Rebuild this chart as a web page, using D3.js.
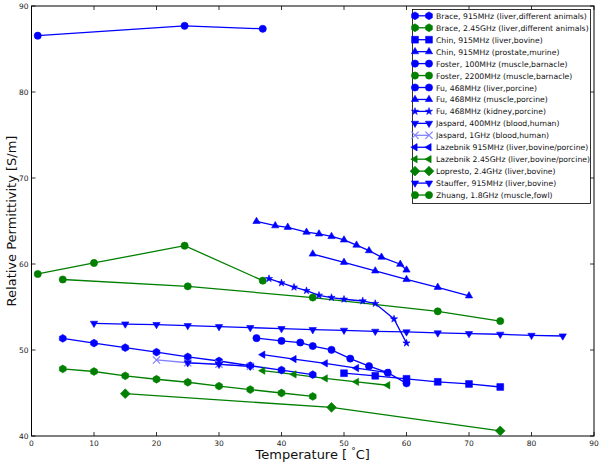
<!DOCTYPE html>
<html><head><meta charset="utf-8">
<script src="https://cdn.jsdelivr.net/npm/d3@7"></script>
<style>body{margin:0;background:#fff;} svg{display:block;font-family:"DejaVu Sans",sans-serif;}</style>
</head><body>
<svg id="c" width="600" height="465"></svg>
<script>
const xTicks = [0,10,20,30,40,50,60,70,80,90];
const yTicks = [40,50,60,70,80,90];

const braceT915 = [5,10,15,20,25,30,35,40,45];
const braceV915 = [51.35,50.8,50.27,49.75,49.2,48.72,48.17,47.67,47.13];
const braceT245 = [5,10,15,20,25,30,35,40,45];
const braceV245 = [47.8,47.5,47.0,46.6,46.25,45.8,45.4,45.0,44.6];
const chinLiverT = [50,55,60,65,70,75];
const chinLiverV = [47.3,47.0,46.65,46.3,46.05,45.7];
const chinProT = [36,39,41,44,46,48,50,52,54,56,59,60];
const chinProV = [64.95,64.45,64.27,63.7,63.5,63.2,62.8,62.2,61.55,60.8,59.97,59.3];
const fosterT100 = [1,24.5,37];
const fosterV100 = [86.55,87.7,87.35];
const fosterT2200 = [1,10,24.5,37];
const fosterV2200 = [58.84,60.12,62.13,58.06];
const fuLiverT = [36,40,43,45,48,51,54,57,60];
const fuLiverV = [51.38,51.06,50.87,50.46,50.02,49.0,48.12,47.36,46.12];
const fuMuscleT = [45,50,55,60,65,70];
const fuMuscleV = [61.16,60.2,59.2,58.2,57.29,56.3];
const fuKidneyT = [38,40,42,44,46,48,50,53,55,58,60];
const fuKidneyV = [58.3,57.8,57.3,56.9,56.36,56.1,55.9,55.7,55.4,53.6,50.8];
const jasp400T = [10,15,20,25,30,35,40,45,50,55,60,65,70,75,80,85];
const jasp400V = [53.1,53.02,52.95,52.83,52.71,52.6,52.48,52.36,52.29,52.17,52.1,51.98,51.9,51.83,51.7,51.63];
const jasp1gT = [20,25,30,35];
const jasp1gV = [48.84,48.52,48.36,48.1];
const laz915T = [37,42,47,52,57];
const laz915V = [49.46,48.95,48.45,47.9,47.36];
const laz245T = [37,42,47,52,57];
const laz245V = [47.6,47.17,46.7,46.3,45.9];
const loprestoT = [15,48,75];
const loprestoV = [44.92,43.33,40.6];
const staufferT = [25,30,35];
const staufferV = [48.5,48.33,48.1];
const zhuangT = [5,25,45,65,75];
const zhuangV = [58.2,57.4,56.1,54.5,53.37];

const seriesNames = [
 "Brace, 915MHz (liver,different animals)",
 "Brace, 2.45GHz (liver,different animals)",
 "Chin, 915MHz (liver,bovine)",
 "Chin, 915MHz (prostate,murine)",
 "Foster, 100MHz (muscle,barnacle)",
 "Foster, 2200MHz (muscle,barnacle)",
 "Fu, 468MHz (liver,porcine)",
 "Fu, 468MHz (muscle,porcine)",
 "Fu, 468MHz (kidney,porcine)",
 "Jaspard, 400MHz (blood,human)",
 "Jaspard, 1GHz (blood,human)",
 "Lazebnik 915MHz (liver,bovine/porcine)",
 "Lazebnik 2.45GHz (liver,bovine/porcine)",
 "Lopresto, 2.4GHz (liver,bovine)",
 "Stauffer, 915MHz (liver,bovine)",
 "Zhuang, 1.8GHz (muscle,fowl)"
];
const B = "#0000ff", G = "#007f00", LB = "#8080ff";
const series = [
 {t:braceT915,v:braceV915,c:B,m:"hex"},
 {t:braceT245,v:braceV245,c:G,m:"hex"},
 {t:chinLiverT,v:chinLiverV,c:B,m:"square"},
 {t:chinProT,v:chinProV,c:B,m:"triUp"},
 {t:fosterT100,v:fosterV100,c:B,m:"circle"},
 {t:fosterT2200,v:fosterV2200,c:G,m:"circle"},
 {t:fuLiverT,v:fuLiverV,c:B,m:"circle"},
 {t:fuMuscleT,v:fuMuscleV,c:B,m:"triUp"},
 {t:fuKidneyT,v:fuKidneyV,c:B,m:"star"},
 {t:jasp400T,v:jasp400V,c:B,m:"triDown"},
 {t:jasp1gT,v:jasp1gV,c:LB,m:"x"},
 {t:laz915T,v:laz915V,c:B,m:"triLeft"},
 {t:laz245T,v:laz245V,c:G,m:"triLeft"},
 {t:loprestoT,v:loprestoV,c:G,m:"diamond"},
 {t:staufferT,v:staufferV,c:B,m:"triDown"},
 {t:zhuangT,v:zhuangV,c:G,m:"circle"}
];
series.forEach((s,i)=>s.name=seriesNames[i]);

const L=31.5, R=594, T=6, Bt=436;
const x = d3.scaleLinear().domain([0,90]).range([L,R]);
const y = d3.scaleLinear().domain([40,90]).range([Bt,T]);
const svg = d3.select("#c");

function markerPath(m){
  if(m==="circle"){ return d3.symbol(d3.symbolCircle, Math.PI*3.6*3.6)(); }
  if(m==="hex"){ const r=3.9; let s=""; for(let k=0;k<6;k++){const a=k*Math.PI/3-Math.PI/2; s+=(k?"L":"M")+(r*Math.cos(a)).toFixed(2)+","+(r*Math.sin(a)).toFixed(2);} return s+"Z"; }
  if(m==="square"){ const h=3.4; return `M${-h},${-h}L${h},${-h}L${h},${h}L${-h},${h}Z`; }
  if(m==="diamond"){ const h=4.9; return `M0,${-h}L${h},0L0,${h}L${-h},0Z`; }
  if(m==="triUp"){ const r=4.2; return `M0,${-r}L${r*0.87},${r*0.5}L${-r*0.87},${r*0.5}Z`; }
  if(m==="triDown"){ const r=4.2; return `M0,${r}L${r*0.87},${-r*0.5}L${-r*0.87},${-r*0.5}Z`; }
  if(m==="triLeft"){ const r=4.2; return `M${-r},0L${r*0.5},${-r*0.87}L${r*0.5},${r*0.87}Z`; }
  if(m==="star"){ return d3.symbol(d3.symbolStar, 16)(); }
  if(m==="x"){ const h=3.6; return `M${-h},${-h}L${h},${h}M${-h},${h}L${h},${-h}`; }
}
function drawMarker(g, m, c, cx, cy){
  const isX = m==="x";
  g.append("path").attr("d", markerPath(m)).attr("transform",`translate(${cx},${cy})`)
   .attr("fill", isX?"none":c).attr("stroke", c).attr("stroke-width", isX?1.2:0.6);
}

// frame & ticks
const ax = svg.append("g");
ax.append("rect").attr("x",L).attr("y",T).attr("width",R-L).attr("height",Bt-T)
  .attr("fill","none").attr("stroke","#000").attr("stroke-width",1);
const tickLen=4;
xTicks.forEach(t=>{
  const px=x(t);
  ax.append("line").attr("x1",px).attr("x2",px).attr("y1",Bt).attr("y2",Bt-tickLen).attr("stroke","#000").attr("stroke-width",0.8);
  ax.append("line").attr("x1",px).attr("x2",px).attr("y1",T).attr("y2",T+tickLen).attr("stroke","#000").attr("stroke-width",0.8);
  ax.append("text").attr("x",px).attr("y",Bt+10).attr("text-anchor","middle").attr("font-size",7.5).attr("fill","#222").text(t);
});
yTicks.forEach(t=>{
  const py=y(t);
  ax.append("line").attr("x1",L).attr("x2",L+tickLen).attr("y1",py).attr("y2",py).attr("stroke","#000").attr("stroke-width",0.8);
  ax.append("line").attr("x1",R).attr("x2",R-tickLen).attr("y1",py).attr("y2",py).attr("stroke","#000").attr("stroke-width",0.8);
  ax.append("text").attr("x",L-3).attr("y",py+3).attr("text-anchor","end").attr("font-size",7.5).attr("fill","#222").text(t);
});

// axis labels
const xl = svg.append("text").attr("x",(L+R)/2).attr("y",459).attr("text-anchor","middle").attr("font-size",13).attr("fill","#111");
xl.append("tspan").text("Temperature [ ");
xl.append("tspan").attr("font-size",9).attr("dy",-5).text("°");
xl.append("tspan").attr("dy",5).text("C]");
svg.append("text").attr("transform",`translate(16,${(T+Bt)/2}) rotate(-90)`).attr("text-anchor","middle")
  .attr("font-size",13).attr("fill","#111").text("Relative Permittivity [S/m]");

// series
const plot = svg.append("g");
const line = d3.line().x(d=>x(d[0])).y(d=>y(d[1]));
series.forEach(s=>{
  const pts = s.t.map((t,i)=>[t,s.v[i]]);
  plot.append("path").attr("d", line(pts)).attr("fill","none").attr("stroke",s.c).attr("stroke-width",1.3);
});
series.forEach(s=>{
  s.t.forEach((t,i)=>drawMarker(plot, s.m, s.c, x(t), y(s.v[i])));
});

// legend
const lg = svg.append("g");
lg.append("rect").attr("x",412.5).attr("y",9.5).attr("width",178).attr("height",194)
  .attr("fill","#fff").attr("stroke","#000").attr("stroke-width",0.8);
series.forEach((s,i)=>{
  const yy = 15.8 + i*11.95;
  lg.append("line").attr("x1",415).attr("x2",429).attr("y1",yy).attr("y2",yy).attr("stroke",s.c).attr("stroke-width",1.3);
  drawMarker(lg, s.m, s.c, 415, yy);
  drawMarker(lg, s.m, s.c, 429, yy);
  lg.append("text").attr("x",436).attr("y",yy+3).attr("font-size",7.7).attr("fill","#111").text(s.name);
});
</script>
</body></html>
